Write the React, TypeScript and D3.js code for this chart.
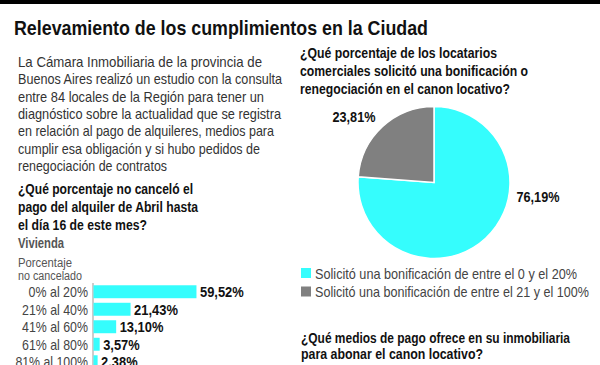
import React from "react";
import * as d3 from "d3";

const titleText = "Relevamiento de los cumplimientos en la Ciudad";
const introLines = [
  "La Cámara Inmobiliaria de la provincia de",
  "Buenos Aires realizó un estudio con la consulta",
  "entre 84 locales de la Región para tener un",
  "diagnóstico sobre la actualidad que se registra",
  "en relación al pago de alquileres, medios para",
  "cumplir esa obligación y si hubo pedidos de",
  "renegociación de contratos",
];
const introWidths = [244, 264, 246, 263, 256, 242, 149];
const barQuestionLines = [
  "¿Qué porcentaje no canceló el",
  "pago del alquiler de Abril hasta",
  "el día 16 de este mes?",
];
const barQuestionWidths = [175, 180, 129];
const barSubtitle = "Vivienda";
const barAxisTitle = ["Porcentaje", "no cancelado"];
const barCategories = ["0% al 20%", "21% al 40%", "41% al 60%", "61% al 80%", "81% al 100%"];
const barValues = [59.52, 21.43, 13.1, 3.57, 2.38];

const pieQuestionLines = [
  "¿Qué porcentaje de los locatarios",
  "comerciales solicitó una bonificación o",
  "renegociación en el canon locativo?",
];
const pieQuestionWidths = [197, 228, 210];
const pieCategories = [
  "Solicitó una bonificación de entre el 0 y el 20%",
  "Solicitó una bonificación de entre el 21 y el 100%",
];
const pieValues = [76.19, 23.81];
const pieColors = ["#35fdfd", "#808080"];
const bottomQuestionLines = [
  "¿Qué medios de pago ofrece en su inmobiliaria",
  "para abonar el canon locativo?",
];
const bottomQuestionWidths = [269, 182];

const esLocale = d3.formatLocale({ decimal: ",", thousands: ".", grouping: [3], currency: ["$", ""] });
const fmt = (v: number) => esLocale.format(".2f")(v) + "%";

const FONT = "'Liberation Sans', Arial, sans-serif";

export default function App() {
  const W = 600;
  const H = 365;

  // bar chart scales
  const x = d3.scaleLinear().domain([0, 100]).range([93, 93 + 173]);
  const y = d3
    .scaleBand<string>()
    .domain(barCategories)
    .range([283, 370.5])
    .paddingInner(0.26)
    .paddingOuter(0.13);

  // pie
  const cx = 434;
  const cy = 182.5;
  const r = 76;
  const pie = d3.pie<number>().sort(null).value((d) => d);
  const arcs = pie(pieValues);
  const arcGen = d3.arc<d3.PieArcDatum<number>>().innerRadius(0).outerRadius(r);
  const labelPos = [
    { x: 538, y: 202 },
    { x: 354, y: 122 },
  ];

  return (
    <div style={{ position: "fixed", left: 0, top: 0, width: W, height: H, background: "#fff" }}>
      <svg width={W} height={H} style={{ display: "block", fontFamily: FONT }}>
        <rect x={0} y={0} width={W} height={H} fill="#fff" />
        <rect x={0} y={0} width={W} height={4} fill="#000" />
        <text x={14} y={35} fontSize={21} fontWeight={700} fill="#111" textLength={414} lengthAdjust="spacingAndGlyphs">
          {titleText}
        </text>

        {introLines.map((t, i) => (
          <text key={t} x={18} y={67 + i * 17.3} fontSize={15} fill="#333" textLength={introWidths[i]} lengthAdjust="spacingAndGlyphs">
            {t}
          </text>
        ))}

        {barQuestionLines.map((t, i) => (
          <text key={t} x={18} y={193.5 + i * 18} fontSize={15} fontWeight={700} fill="#111" textLength={barQuestionWidths[i]} lengthAdjust="spacingAndGlyphs">
            {t}
          </text>
        ))}
        <text x={18} y={247.5} fontSize={14} fontWeight={700} fill="#555" textLength={46} lengthAdjust="spacingAndGlyphs">
          {barSubtitle}
        </text>
        {barAxisTitle.map((t, i) => (
          <text key={t} x={18} y={267 + i * 12.5} fontSize={12} fill="#555" textLength={i === 0 ? 54 : 64} lengthAdjust="spacingAndGlyphs">
            {t}
          </text>
        ))}

        <line x1={x(0)} x2={x(0)} y1={283} y2={H} stroke="#999" strokeWidth={1} />
        {barCategories.map((c, i) => {
          const yy = y(c)!;
          const bw = y.bandwidth();
          return (
            <g key={c}>
              <rect x={x(0) + 0.5} y={yy} width={x(barValues[i]) - x(0)} height={bw} fill={pieColors[0]} />
              <text x={88} y={yy + bw / 2} dy="0.36em" textAnchor="end" fontSize={15} fill="#444" textLength={c.length * 6.6} lengthAdjust="spacingAndGlyphs">
                {c}
              </text>
              <text x={x(barValues[i]) + 4} y={yy + bw / 2} dy="0.36em" fontSize={15} fontWeight={700} fill="#111" textLength={fmt(barValues[i]).length * 7.3} lengthAdjust="spacingAndGlyphs">
                {fmt(barValues[i])}
              </text>
            </g>
          );
        })}

        {pieQuestionLines.map((t, i) => (
          <text key={t} x={300} y={57.5 + i * 18} fontSize={15} fontWeight={700} fill="#111" textLength={pieQuestionWidths[i]} lengthAdjust="spacingAndGlyphs">
            {t}
          </text>
        ))}
        <g transform={`translate(${cx},${cy})`}>
          {arcs.map((a, i) => (
            <path key={i} d={arcGen(a)!} fill={pieColors[i]} stroke="#fff" strokeWidth={1.5} />
          ))}
        </g>
        {arcs.map((a, i) => (
          <text key={i} x={labelPos[i].x} y={labelPos[i].y} textAnchor="middle" fontSize={15} fontWeight={700} fill="#111" textLength={43} lengthAdjust="spacingAndGlyphs">
            {fmt(a.data)}
          </text>
        ))}

        {pieCategories.map((c, i) => (
          <g key={c}>
            <rect x={301} y={268 + i * 18.5} width={10} height={10} fill={pieColors[i]} />
            <text x={315} y={278.5 + i * 18.5} fontSize={15} fill="#444" textLength={i === 0 ? 262 : 274} lengthAdjust="spacingAndGlyphs">
              {c}
            </text>
          </g>
        ))}

        {bottomQuestionLines.map((t, i) => (
          <text key={t} x={301} y={342.5 + i * 16.5} fontSize={15} fontWeight={700} fill="#111" textLength={bottomQuestionWidths[i]} lengthAdjust="spacingAndGlyphs">
            {t}
          </text>
        ))}
      </svg>
    </div>
  );
}
